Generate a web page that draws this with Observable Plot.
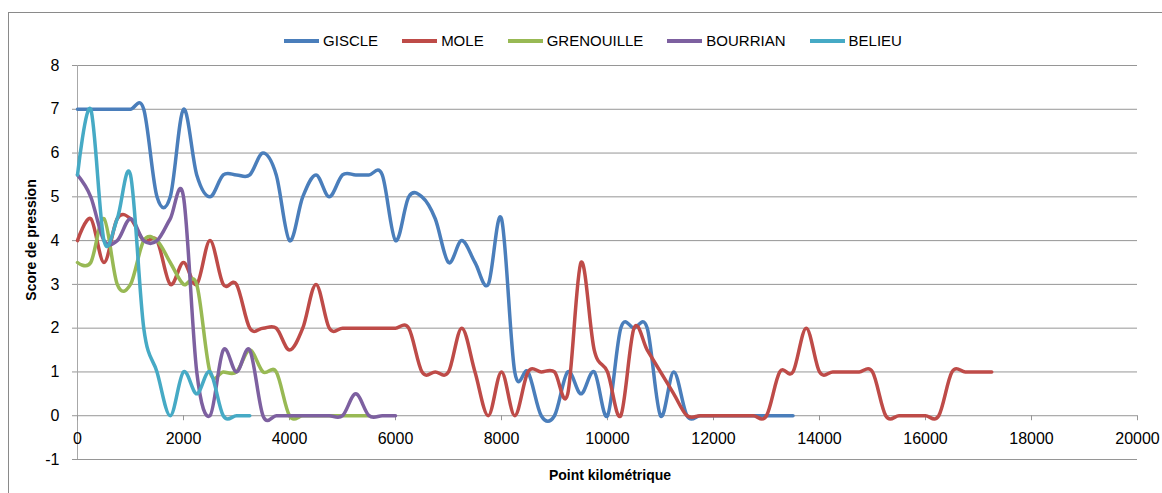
<!DOCTYPE html>
<html>
<head>
<meta charset="utf-8">
<script src="https://cdn.jsdelivr.net/npm/d3@7"></script>
<script src="https://cdn.jsdelivr.net/npm/@observablehq/plot@0.6"></script>
<style>
  body { margin: 0; background: #fff; }
  #wrap { position: relative; width: 1162px; height: 493px; overflow: hidden; font-family: "Liberation Sans", Arial, sans-serif; background: #fff; }
  #wrap svg { position: absolute; left: 0; top: 0; }
  #border { position: absolute; left: 8px; top: 12px; width: 1300px; height: 700px; border: 1px solid #8a8a8a; box-sizing: border-box; pointer-events: none; }
  #legend { position: absolute; left: 0; top: 32px; width: 1186px; display: flex; justify-content: center; font-size: 15px; color: #000; }
  .item { display: flex; align-items: center; margin: 0 12px; }
  .sw { width: 35px; height: 4px; margin-right: 4px; }
  #ytitle { position: absolute; left: 31px; top: 240px; transform: translate(-50%, -50%) rotate(-90deg); font-weight: bold; font-size: 14px; white-space: nowrap; }
  #xtitle { position: absolute; left: 610px; top: 475px; transform: translate(-50%, -50%); font-weight: bold; font-size: 14px; white-space: nowrap; }
</style>
</head>
<body>
<div id="wrap">
  <div id="legend"></div>
  <div id="ytitle">Score de pression</div>
  <div id="xtitle">Point kilométrique</div>
</div>
<script>
// Point kilométrique (m) of each measurement
const PK = [
  0, 250, 500, 750, 1000, 1250, 1500, 1750, 2000, 2250,
  2500, 2750, 3000, 3250, 3500, 3750, 4000, 4250, 4500, 4750,
  5000, 5250, 5500, 5750, 6000, 6250, 6500, 6750, 7000, 7250,
  7500, 7750, 8000, 8250, 8500, 8750, 9000, 9250, 9500, 9750,
  10000, 10250, 10500, 10750, 11000, 11250, 11500, 11750, 12000, 12250,
  12500, 12750, 13000, 13250, 13500, 13750, 14000, 14250, 14500, 14750,
  15000, 15250, 15500, 15750, 16000, 16250, 16500, 16750, 17000, 17250
];

const series = ["GISCLE", "MOLE", "GRENOUILLE", "BOURRIAN", "BELIEU"];
const colors = ["#4a7ebb", "#be4b48", "#98b954", "#7d60a0", "#46aac5"];

const GISCLE = [
  7, 7, 7, 7, 7, 7, 5, 5, 7, 5.5,
  5, 5.5, 5.5, 5.5, 6, 5.5, 4, 5, 5.5, 5,
  5.5, 5.5, 5.5, 5.5, 4, 5, 5, 4.5, 3.5, 4,
  3.5, 3, 4.5, 1, 1, 0, 0, 1, 0.5, 1,
  0, 2, 2, 2, 0, 1, 0, 0, 0, 0,
  0, 0, 0, 0, 0
];
const MOLE = [
  4, 4.5, 3.5, 4.5, 4.5, 4, 4, 3, 3.5, 3,
  4, 3, 3, 2, 2, 2, 1.5, 2, 3, 2,
  2, 2, 2, 2, 2, 2, 1, 1, 1, 2,
  1, 0, 1, 0, 1, 1, 1, 0.5, 3.5, 1.5,
  1, 0, 2, 1.5, 1, 0.5, 0, 0, 0, 0,
  0, 0, 0, 1, 1, 2, 1, 1, 1, 1,
  1, 0, 0, 0, 0, 0, 1, 1, 1, 1
];
const GRENOUILLE = [
  3.5, 3.5, 4.5, 3, 3, 4, 4, 3.5, 3, 3,
  1, 1, 1, 1.5, 1, 1, 0, 0, 0, 0,
  0, 0, 0
];
const BOURRIAN = [
  5.5, 5, 4, 4, 4.5, 4, 4, 4.5, 5, 1,
  0, 1.5, 1, 1.5, 0, 0, 0, 0, 0, 0,
  0, 0.5, 0, 0, 0
];
const BELIEU = [
  5.5, 7, 4, 4.5, 5.5, 2, 1, 0, 1, 0.5,
  1, 0, 0, 0
];

const yTicks = [-1, 0, 1, 2, 3, 4, 5, 6, 7, 8];
const xTicks = [0, 2000, 4000, 6000, 8000, 10000, 12000, 14000, 16000, 18000, 20000];

const valuesBySeries = { GISCLE, MOLE, GRENOUILLE, BOURRIAN, BELIEU };
const rows = [];
for (const s of series) {
  valuesBySeries[s].forEach((v, i) => rows.push({ river: s, pk: PK[i], score: v }));
}

const chart = Plot.plot({
  width: 1162,
  height: 493,
  marginLeft: 77,
  marginRight: 25,
  marginTop: 65,
  marginBottom: 34,
  style: { fontFamily: "'Liberation Sans', Arial, sans-serif", fontSize: "16px", color: "#000", background: "transparent" },
  x: { domain: [0, 20000], axis: null },
  y: { domain: [-1, 8] },
  color: { domain: series, range: colors },
  marks: [
    Plot.ruleY(yTicks, { stroke: "#969696", strokeWidth: 1, strokeOpacity: 1 }),
    Plot.ruleX([0], { y1: -1, y2: 8, stroke: "#a8a8a8", strokeOpacity: 1 }),
    Plot.axisY({ ticks: yTicks, tickFormat: d => String(d), tickSize: 5, tickPadding: 13, label: null, stroke: "#969696", fill: "#000", fontSize: 16 }),
    Plot.ruleX(xTicks, { x: d => d, y1: 0, y2: 0, insetBottom: -5, stroke: "#969696", strokeOpacity: 1 }),
    Plot.text(xTicks, { x: d => d, y: 0, dy: 23, text: d => String(d), fontSize: 16, fill: "#000" }),
    Plot.line(rows, { x: "pk", y: "score", z: "river", stroke: "river", curve: "cardinal", strokeWidth: 3.5, strokeLinejoin: "round", strokeLinecap: "round" })
  ]
});

const wrap = document.getElementById("wrap");
wrap.insertBefore(chart, wrap.firstChild);
const border = document.createElement("div");
border.id = "border";
wrap.appendChild(border);

const legend = document.getElementById("legend");
series.forEach((s, i) => {
  const it = document.createElement("div");
  it.className = "item";
  const sw = document.createElement("div");
  sw.className = "sw";
  sw.style.background = colors[i];
  const t = document.createElement("span");
  t.textContent = s;
  it.appendChild(sw);
  it.appendChild(t);
  legend.appendChild(it);
});
</script>
</body>
</html>
